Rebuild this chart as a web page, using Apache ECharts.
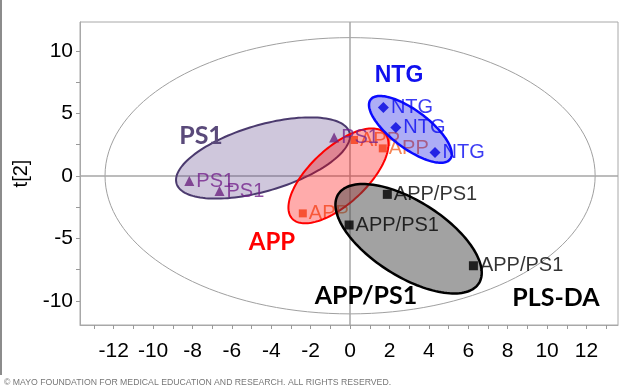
<!DOCTYPE html>
<html><head><meta charset="utf-8">
<script src="https://cdn.jsdelivr.net/npm/echarts@6/dist/echarts.min.js"></script>
<style>html,body{margin:0;padding:0;background:#fff}#c{width:632px;height:390px}</style>
</head><body><div id="c"></div>
<script>
// ---- data ----
const groupNames = ['NTG', 'APP', 'PS1', 'APP/PS1'];
const ntgX = [1.69, 2.32, 4.31];
const ntgY = [5.47, 3.87, 1.87];
const appX = [0.20, 1.66, -2.40];
const appY = [2.86, 2.19, -3.01];
const ps1X = [-8.16, -6.63, -0.81];
const ps1Y = [-0.42, -1.22, 3.07];
const appPs1X = [1.89, -0.05, 6.26];
const appPs1Y = [-1.49, -3.94, -7.20];
// group confidence ellipses (t[1], t[2] units): centre and two conjugate half-axis vectors
const ellipseCenter = [[3.06, 3.71], [-0.59, -0.01], [-4.42, 1.42], [2.97, -5.04]];
const ellipseU = [[2.02, -2.38], [2.35, 3.42], [4.39, 2.04], [3.57, -3.56]];
const ellipseV = [[-0.574, -1.21], [0.965, -1.65], [0.47, -2.53], [-1.02, -2.55]];
// Hotelling T2 ellipse half-axes
const t2Radii = [12.44, 11.05];
const xTickValues = [-13,-12,-11,-10,-9,-8,-7,-6,-5,-4,-3,-2,-1,0,1,2,3,4,5,6,7,8,9,10,11,12,13];
const xLabelValues = [-12,-10,-8,-6,-4,-2,0,2,4,6,8,10,12];
const yTickValues = [-10,-7.5,-5,-2.5,0,2.5,5,7.5,10];
const yLabelValues = [-10,-5,0,5,10];
const yAxisName = 't[2]';
const modelName = 'PLS-DA';
const copyright = '\u00A9 MAYO FOUNDATION FOR MEDICAL EDUCATION AND RESEARCH. ALL RIGHTS RESERVED.';

// ---- styles ----
const FONT = '"Liberation Sans", Arial, sans-serif';
const BOLD = 'Lato, "Open Sans", sans-serif';
const markerColor = ['#0000e0', '#f05a22', '#6b2481', '#000000'];
const labelColor = ['#0a0af0', '#f2662a', '#74238c', '#000000'];
const symbols = ['diamond', 'rect', 'triangle', 'rect'];
const symbolSizes = [11, 8, 10, 9];
const seriesZ = [6, 3, 6, 6];
const ellFill = ['rgba(20,20,230,0.35)', 'rgba(255,0,0,0.33)', 'rgba(95,70,140,0.30)', 'rgba(70,70,70,0.50)'];
const ellStroke = ['#0a0aff', '#ff0000', '#4b3a6e', '#000000'];
const ellWidth = [2.5, 2, 2, 2.5];
const drawOrder = [2, 1, 0, 3];

function ellipsePoints(c, u, v, api) {
  const pts = [];
  const N = 144;
  for (let k = 0; k <= N; k++) {
    const t = k / N * 2 * Math.PI;
    pts.push(api.coord([
      c[0] + u[0] * Math.cos(t) + v[0] * Math.sin(t),
      c[1] + u[1] * Math.cos(t) + v[1] * Math.sin(t)
    ]));
  }
  return pts;
}

const xs = [ntgX, appX, ps1X, appPs1X];
const ys = [ntgY, appY, ps1Y, appPs1Y];

const scatterSeries = groupNames.map((g, i) => ({
  type: 'scatter',
  name: g,
  z: seriesZ[i],
  symbol: symbols[i],
  symbolSize: symbolSizes[i],
  itemStyle: { color: markerColor[i] },
  label: {
    show: true, position: 'right', distance: 2,
    formatter: g, fontSize: 20, fontFamily: FONT, color: labelColor[i]
  },
  data: xs[i].map((x, k) => [x, ys[i][k]])
}));

const chart = echarts.init(document.getElementById('c'), null, { renderer: 'canvas' });
chart.setOption({
  animation: false,
  backgroundColor: '#fff',
  grid: { left: 80, right: 14, top: 22, bottom: 65, show: true, borderColor: '#a8a8a8', borderWidth: 1 },
  xAxis: {
    type: 'value', min: -13.71, max: 13.6,
    axisLine: { show: true, onZero: false, lineStyle: { color: '#a8a8a8' } },
    axisTick: { show: true, customValues: xTickValues, length: 4, lineStyle: { color: '#999' } },
    axisLabel: { customValues: xLabelValues, fontSize: 21, fontFamily: FONT, color: '#000', margin: 16 },
    splitLine: { show: false }
  },
  yAxis: {
    type: 'value', min: -11.94, max: 12.3,
    name: yAxisName, nameLocation: 'middle', nameGap: 41,
    nameTextStyle: { fontSize: 20, fontFamily: FONT, color: '#000' },
    axisLine: { show: true, onZero: false, lineStyle: { color: '#a8a8a8' } },
    axisTick: { show: true, customValues: yTickValues, length: 4, lineStyle: { color: '#999' } },
    axisLabel: { customValues: yLabelValues, fontSize: 21, fontFamily: FONT, color: '#000', margin: 7 },
    splitLine: { show: false }
  },
  series: [
    {
      type: 'custom', z: 1, silent: true,
      data: [[0, 0]],
      renderItem: function (params, api) {
        return {
          type: 'polygon',
          shape: { points: ellipsePoints([api.value(0), api.value(1)], [t2Radii[0], 0], [0, t2Radii[1]], api) },
          style: { fill: 'none', stroke: '#a0a0a0', lineWidth: 1 }
        };
      },
      markLine: {
        silent: true, symbol: 'none', label: { show: false },
        lineStyle: { color: '#a6a6a6', width: 1.5, type: 'solid' },
        data: [{ xAxis: 0 }, { yAxis: 0 }]
      }
    },
    ...scatterSeries,
    {
      type: 'custom', z: 5, silent: true,
      data: drawOrder.map(i => [ellipseCenter[i][0], ellipseCenter[i][1], i]),
      renderItem: function (params, api) {
        const i = api.value(2);
        return {
          type: 'polygon',
          shape: { points: ellipsePoints([api.value(0), api.value(1)], ellipseU[i], ellipseV[i], api) },
          style: { fill: ellFill[i], stroke: ellStroke[i], lineWidth: ellWidth[i] }
        };
      }
    }
  ],
  graphic: [
    { type: 'text', x: 399, y: 76, z: 10, style: { text: groupNames[0], font: 'bold 23px ' + FONT, fill: '#1010ee', align: 'center', verticalAlign: 'middle' } },
    { type: 'text', x: 272, y: 242, z: 10, style: { text: groupNames[1], font: 'bold 24px ' + BOLD, fill: '#ff0000', align: 'center', verticalAlign: 'middle' } },
    { type: 'text', x: 201, y: 136, z: 10, style: { text: groupNames[2], font: 'bold 25px ' + BOLD, fill: '#5a4a7a', align: 'center', verticalAlign: 'middle' } },
    { type: 'text', x: 366, y: 296, z: 10, style: { text: groupNames[3], font: 'bold 25px ' + BOLD, fill: '#000', align: 'center', verticalAlign: 'middle' } },
    { type: 'text', x: 556, y: 298, z: 10, style: { text: modelName, font: 'bold 25px ' + BOLD, fill: '#000', align: 'center', verticalAlign: 'middle' } },
    { type: 'text', x: 4, y: 383, z: 10, style: { text: copyright, font: '8.7px ' + FONT, fill: '#777', align: 'left', verticalAlign: 'middle' } },
    { type: 'line', z: 10, shape: { x1: 1, y1: 0, x2: 1, y2: 375 }, style: { stroke: '#666', lineWidth: 1.5 } }
  ]
});
</script></body></html>
